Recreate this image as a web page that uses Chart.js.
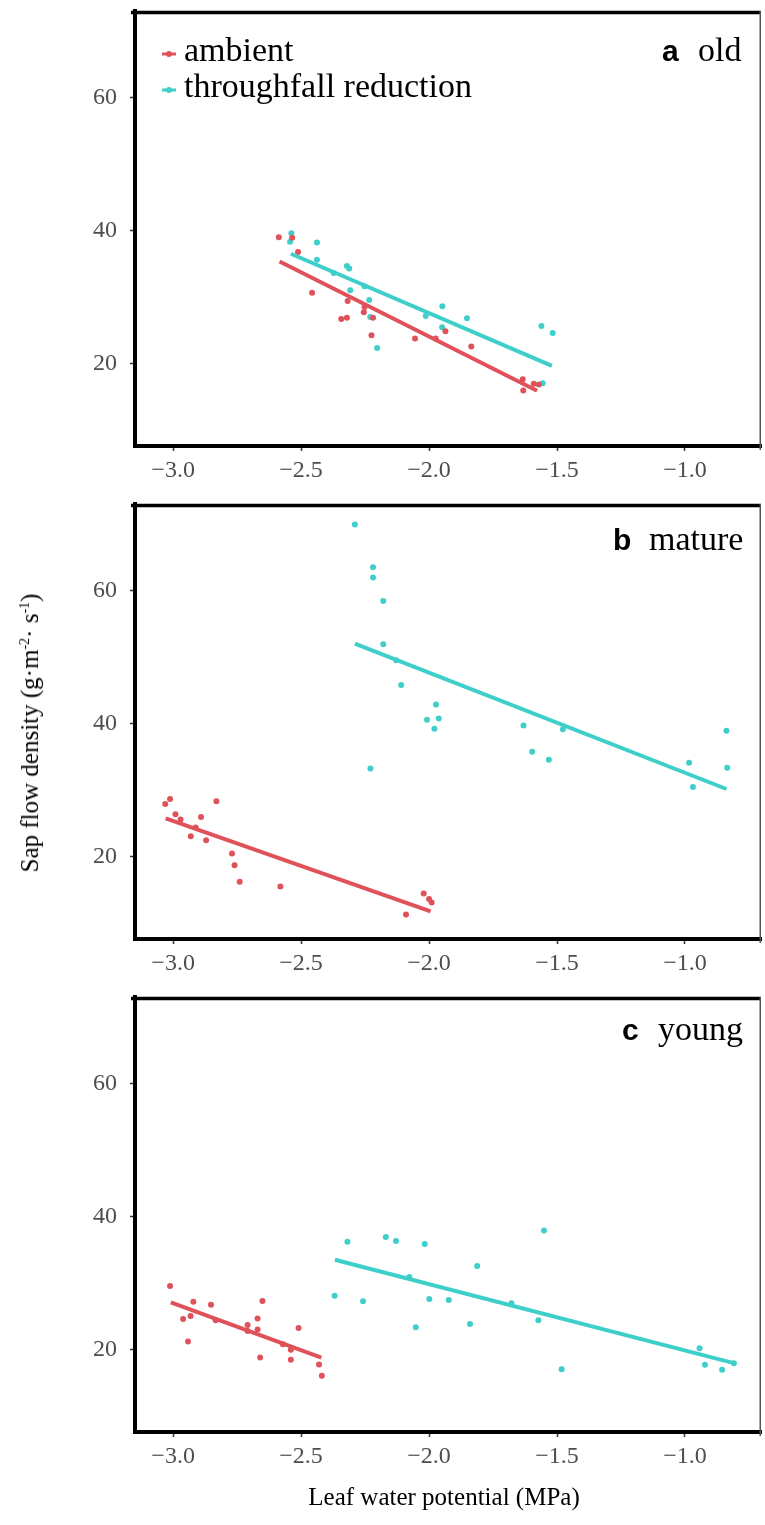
<!DOCTYPE html>
<html>
<head>
<meta charset="utf-8">
<script src="https://cdn.jsdelivr.net/npm/chart.js@4.4.0/dist/chart.umd.min.js"></script>
<style>
  body { margin: 0; background: #fff; }
  #wrap { position: relative; width: 765px; height: 1525px; font-family: 'Liberation Serif', 'Times New Roman', serif; }
  #wrap canvas { position: absolute; left: 0; }
  .ytitle { position: absolute; left: 30px; top: 733px; transform: translate(-50%, -50%) rotate(-90deg); white-space: nowrap; font-size: 25px; color: #000; }
  .ytitle sup { font-size: 14px; }
  .xtitle { position: absolute; left: 444px; top: 1497px; transform: translate(-50%, -50%); white-space: nowrap; font-size: 25px; color: #000; }
</style>
</head>
<body>
<div id="wrap">
  <canvas id="panelA" width="765" height="493" style="top:0px"></canvas>
  <canvas id="panelB" width="765" height="493" style="top:493px"></canvas>
  <canvas id="panelC" width="765" height="539" style="top:986px"></canvas>
  <div class="ytitle">Sap flow density (g·m<sup>-2</sup>· s<sup>-1</sup>)</div>
  <div class="xtitle">Leaf water potential (MPa)</div>
</div>
<script>
// axis ticks
var xTicks = [-3.0, -2.5, -2.0, -1.5, -1.0];
var yTicks = [20, 40, 60];
var seriesNames = ["ambient", "throughfall reduction"];

// panel a - old
var oldAmbX = [-2.587, -2.535, -2.512, -2.457, -2.343, -2.321, -2.318, -2.255, -2.252, -2.225, -2.219, -2.055, -1.974, -1.936, -1.835, -1.634, -1.632, -1.591, -1.571];
var oldAmbY = [39.0, 38.9, 36.75, 30.65, 26.7, 26.9, 29.4, 27.7, 28.5, 24.25, 26.9, 23.75, 23.75, 24.85, 22.55, 17.65, 15.95, 16.95, 16.85];
var oldTrX = [-2.538, -2.543, -2.438, -2.438, -2.373, -2.321, -2.312, -2.308, -2.252, -2.234, -2.23, -2.203, -2.013, -1.948, -1.949, -1.852, -1.561, -1.556, -1.517];
var oldTrY = [39.6, 38.3, 38.2, 35.6, 33.6, 34.65, 34.3, 31.0, 31.6, 29.55, 27.0, 22.35, 27.15, 28.6, 25.45, 26.8, 25.65, 17.05, 24.6];
var oldAmbFitX = [-2.584, -1.578], oldAmbFitY = [35.35, 15.9];
var oldTrFitX = [-2.54, -1.52], oldTrFitY = [36.5, 19.65];

// panel b - mature
var matAmbX = [-3.031, -3.012, -2.991, -2.971, -2.912, -2.891, -2.931, -2.871, -2.831, -2.770, -2.760, -2.740, -2.581, -2.090, -2.021, -2.0, -1.990];
var matAmbY = [27.9, 28.65, 26.35, 25.55, 24.35, 25.95, 23.05, 22.45, 28.3, 20.45, 18.7, 16.2, 15.5, 11.3, 14.45, 13.6, 13.1];
var matTrX = [-2.290, -2.219, -2.219, -2.179, -2.179, -2.129, -2.109, -1.973, -2.008, -1.962, -1.979, -2.229, -1.631, -1.597, -1.532, -1.477, -0.984, -0.969, -0.838, -0.835];
var matTrY = [69.9, 63.5, 61.95, 58.4, 51.9, 49.5, 45.8, 42.85, 40.55, 40.75, 39.2, 33.25, 39.7, 35.75, 34.55, 39.15, 34.1, 30.45, 38.9, 33.35];
var matAmbFitX = [-3.029, -1.994], matAmbFitY = [25.75, 11.75];
var matTrFitX = [-2.290, -0.838], matTrFitY = [52.0, 30.15];

// panel c - young
var youAmbX = [-3.012, -2.961, -2.932, -2.921, -2.942, -2.852, -2.834, -2.709, -2.709, -2.670, -2.670, -2.651, -2.660, -2.571, -2.540, -2.540, -2.510, -2.430, -2.419];
var youAmbY = [29.55, 24.6, 25.05, 27.2, 21.2, 26.75, 24.4, 23.7, 22.8, 24.65, 23.0, 27.3, 18.8, 20.8, 19.95, 18.45, 23.25, 17.75, 16.05];
var youTrX = [-2.369, -2.319, -2.258, -2.169, -2.129, -2.017, -2.077, -2.052, -1.999, -1.923, -1.840, -1.812, -1.678, -1.573, -1.551, -1.482, -0.943, -0.922, -0.855, -0.809];
var youTrY = [28.1, 36.2, 27.25, 36.9, 36.3, 35.85, 30.9, 23.35, 27.6, 27.45, 23.85, 32.55, 26.95, 24.4, 37.9, 17.05, 20.2, 17.7, 16.95, 17.95];
var youAmbFitX = [-3.009, -2.421], youAmbFitY = [27.1, 18.8];
var youTrFitX = [-2.368, -0.809], youTrFitY = [33.5, 17.95];

var red = "#e0525a";
var cyan = "#3fcfca";
var serif = "'Liberation Serif', 'Times New Roman', serif";

function pts(xs, ys) {
    return xs.map(function(x, i) { return { x: x, y: ys[i] }; });
}

// draws top/right frame, panel tag and (panel a only) the legend
var framePlugin = {
    id: "frame",
    afterDraw: function(chart, args, opts) {
        var a = chart.chartArea, ctx = chart.ctx;
        ctx.save();
        ctx.strokeStyle = "#000";
        ctx.lineWidth = 3.5;
        ctx.beginPath();
        ctx.moveTo(a.left - 4, a.top + 1.5);
        ctx.lineTo(a.right, a.top + 1.5);
        ctx.stroke();
        ctx.strokeStyle = "#555";
        ctx.lineWidth = 1.5;
        ctx.beginPath();
        ctx.moveTo(a.right - 0.75, a.top);
        ctx.lineTo(a.right - 0.75, a.bottom + 4);
        ctx.stroke();

        ctx.fillStyle = "#000";
        ctx.textBaseline = "alphabetic";
        ctx.textAlign = "left";
        ctx.font = "bold 30px 'Liberation Sans', Arial, sans-serif";
        ctx.fillText(opts.tag, opts.tagX, opts.baseY);
        ctx.font = "34px " + serif;
        ctx.fillText(opts.name, opts.nameX, opts.baseY);

        if (opts.legend) {
            [red, cyan].forEach(function(col, i) {
                var y = 54 + 36 * i;
                ctx.strokeStyle = col;
                ctx.lineWidth = 3;
                ctx.beginPath();
                ctx.moveTo(162, y);
                ctx.lineTo(176, y);
                ctx.stroke();
                ctx.fillStyle = col;
                ctx.beginPath();
                ctx.arc(169, y, 3, 0, Math.PI * 2);
                ctx.fill();
                ctx.fillStyle = "#000";
                ctx.font = "34px " + serif;
                ctx.fillText(seriesNames[i], 184, 61 + 36 * i);
            });
        }
        ctx.restore();
    }
};

function makePanel(id, canvasH, frame, ambX, ambY, trX, trY, ambFitX, ambFitY, trFitX, trFitY) {
    var ctx = document.getElementById(id).getContext("2d");
    return new Chart(ctx, {
        type: "scatter",
        data: {
            datasets: [
                { label: seriesNames[0], data: pts(ambFitX, ambFitY), showLine: true, borderColor: red, borderWidth: 4, pointRadius: 0, order: 0 },
                { label: seriesNames[1], data: pts(trFitX, trFitY), showLine: true, borderColor: cyan, borderWidth: 4, pointRadius: 0, order: 0 },
                { label: seriesNames[0], data: pts(ambX, ambY), backgroundColor: red, borderWidth: 0, pointRadius: 3, order: 1 },
                { label: seriesNames[1], data: pts(trX, trY), backgroundColor: cyan, borderWidth: 0, pointRadius: 3, order: 1 }
            ]
        },
        options: {
            responsive: false,
            animation: false,
            devicePixelRatio: 1,
            events: [],
            layout: { padding: { top: 11, right: 2, left: 0, bottom: 0 } },
            plugins: {
                legend: { display: false },
                tooltip: { enabled: false },
                frame: frame
            },
            scales: {
                x: {
                    type: "linear",
                    min: -3.149,
                    max: -0.703,
                    afterBuildTicks: function(s) { s.ticks = xTicks.map(function(v) { return { value: v }; }); },
                    afterFit: function(s) {
                        s.height = canvasH - 446;
                        s.paddingLeft = 0;
                        s.paddingRight = 0;
                    },
                    ticks: {
                        autoSkip: false,
                        maxRotation: 0,
                        color: "#4d4d4d",
                        padding: 5,
                        font: { family: serif, size: 24 },
                        callback: function(v) { return (v < 0 ? "\u2212" : "") + Math.abs(v).toFixed(1); }
                    },
                    grid: { drawOnChartArea: false, drawTicks: true, tickLength: 5, tickColor: "#333", tickWidth: 1.5 },
                    border: { display: true, color: "#000", width: 4 }
                },
                y: {
                    min: 7.6,
                    max: 73.0,
                    afterBuildTicks: function(s) { s.ticks = yTicks.map(function(v) { return { value: v }; }); },
                    afterFit: function(s) {
                        s.width = 135;
                        s.paddingTop = 0;
                        s.paddingBottom = 0;
                    },
                    ticks: {
                        autoSkip: false,
                        color: "#4d4d4d",
                        padding: 13,
                        font: { family: serif, size: 24 },
                        callback: function(v) { return String(v); }
                    },
                    grid: { drawOnChartArea: false, drawTicks: true, tickLength: 5, tickColor: "#333", tickWidth: 1.5 },
                    border: { display: true, color: "#000", width: 4 }
                }
            }
        },
        plugins: [framePlugin]
    });
}

makePanel("panelA", 493, { tag: "a", name: "old", tagX: 662, nameX: 698, baseY: 61, legend: true },
    oldAmbX, oldAmbY, oldTrX, oldTrY, oldAmbFitX, oldAmbFitY, oldTrFitX, oldTrFitY);
makePanel("panelB", 493, { tag: "b", name: "mature", tagX: 613, nameX: 649, baseY: 57, legend: false },
    matAmbX, matAmbY, matTrX, matTrY, matAmbFitX, matAmbFitY, matTrFitX, matTrFitY);
makePanel("panelC", 539, { tag: "c", name: "young", tagX: 622, nameX: 658, baseY: 54, legend: false },
    youAmbX, youAmbY, youTrX, youTrY, youAmbFitX, youAmbFitY, youTrFitX, youTrFitY);
</script>
</body>
</html>
